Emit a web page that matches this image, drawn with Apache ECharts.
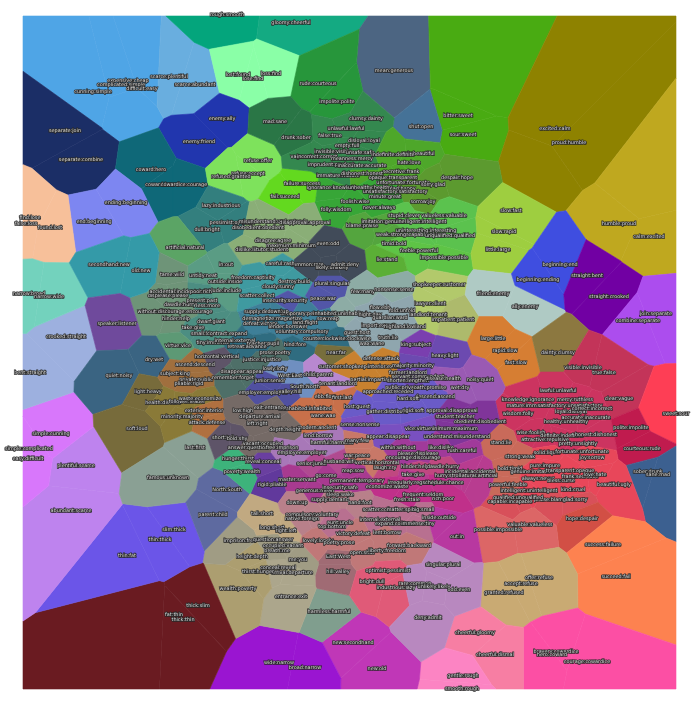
<!DOCTYPE html>
<html><head><meta charset="utf-8">
<style>html,body{margin:0;padding:0;background:#fff}#c{width:700px;height:708px}</style>
<script src="https://cdn.jsdelivr.net/npm/echarts@6/dist/echarts.min.js"></script>
</head><body><div id="c"></div>
<script>
// rows: [word, x, y, optional label x, optional label y]. Words of "" are unlabelled points.
const easyCheap=[["expensive:cheap",126,100,128,81],["complicated:simple",121,85],["difficult:easy",148,76,142,89],["cunning:simple",93,92]];
const scarce=[["scarce:plentiful",169,77],["scarce:abundant",195,85]];
const roughTop=[["rough:smooth",227,15]];
const gloomyTop=[["gloomy:cheerful",291,23]];
const lostFound=[["lost:found",238,75],["loss:find",271,74],["lose:find",253,79]];
const enemyAlly=[["enemy:ally",222,119],["enemy:friend",199,142]];
const separate=[["separate:join",65,131],["separate:combine",81,160]];
const coward=[["coward:hero",151,170],["coward:brave",162,185],["cowardice:courage",184,185]];
const refuse=[["refuse:accept",248,174],["refused:granted",231,177],["refuse:offer",258,161]];
const ending=[["ending:beginning",126,203],["end:beginning",94,222]];
const findLose=[["find:lose",30,218],["false:loss",26,224],["found:lost",50,228]];
const lazy=[["lazy:industrious",221,206],["pessimist:optimist",232,223],["dull:bright",207,230]];
const mean=[["mean:generous",391,90,394,71]];
const rude=[["rude:courteous",318,84],["impolite:polite",337,102]];
const mad=[["mad:sane",275,122],["drunk:sober",296,138]];
const fail=[["fail:succeed",285,197],["failure:success",302,184]];
const bitter=[["bitter:sweet",458,116],["sour:sweet",463,135],["",470,88]];
const excited=[["excited:calm",555,129],["proud:humble",569,143],["",543,161]];
const humble=[["humble:proud",619,224],["calm:excited",649,237],["",640,198]];
const shut=[["shut:open",421,127]];
const clumsy=[["clumsy:dainty",366,119],["unlawful:lawful",346,129],["false:true",330,136],["disloyal:loyal",364,141],["empty:full",347,146],["vague:clear",305,157],["incorrect:correct",317,157],["invisible:visible",333,152],["unsafe:safe",360,153],["meanness:mercy",352,159],["imprudent:prudent",331,165],["inaccurate:accurate",362,166],["immature:mature",338,176]];
const ugly=[["ugly:beautiful",418,154],["indefinite:definite",393,155],["hate:love",409,163],["secretive:frank",401,172],["dishonest:honest",362,174],["opaque:transparent",393,178]];
const despair=[["despair:hope",457,178],["unfortunate:fortunate",403,183],["sorry:glad",433,185],["sad:happy",403,189],["sorrow:joy",423,202]];
const ignorance=[["ignorance:knowledge",333,188],["unhealthy:healthy",370,188],["unsatisfactory:satisfactory",395,192],["minute:great",385,197],["foolish:wise",355,202],["folly:wisdom",336,210],["never:always",379,208]];
const stupid=[["stupid:clever",404,216],["valueless:valuable",444,216],["unintelligent:intelligent",418,222],["uninteresting:interesting",426,231],["incapable:able",422,235],["unqualified:qualified",450,236]];
const blame=[["blame:praise",362,226],["imitation:genuine",383,222],["weak:strong",391,235]];
const timid=[["timid:bold",394,244],["feeble:powerful",419,251],["impossible:possible",444,258]];
const lieStand=[["lie:stand",387,260]];
const slow=[["slow:fast",506,228,511,211],["slow:rapid",504,232],["little:large",498,250]];
const disagree=[["disagree:agree",273,241],["maximum:minimum",291,246],["dislike:like",248,250],["tutor:student",272,250],["misunderstand:understand",272,222],["disapproval:approval",305,223],["disobedient:obedient",258,228]];
const evenOdd=[["even:odd",328,244],["common:rare",307,265],["likely:unlikely",332,268],["admit:deny",345,265]];
const artificial=[["artificial:natural",185,248]];
const inOut=[["in:out",226,265],["outside:inside",225,282],["exclude:include",222,291],["untidy:neat",203,276]];
const tame=[["tame:wild",172,275],["without:within",155,312],["displease:please",168,296],["accidental:incidental",175,292],["discourage:encourage",185,312],["dawdle:hurry",180,305],["hinder:help",176,319]];
const poor=[["poor:rich",201,292],["present:past",202,301],["less:more",208,306],["dwarf:giant",211,322],["take:give",193,328],["small:big",202,334],["contract:expand",227,334],["tiny:immense",213,343]];
const virtue=[["virtue:vice",178,346]];
const careful=[["careful:rash",280,264],["freedom:captivity",253,278],["cloudy:sunny",278,287],["destroy:build",294,282],["scatter:collect",257,296]];
const plural=[["plural:singular",332,284],["peace:war",323,299],["insecurity:security",285,301]];
const temporary=[["temporary:permanent",307,314],["supply:demand",263,312],["down:up",278,312],["demagnetize:magnetize",272,319],["sow:reap",328,319],["land:flight",305,323],["defeat:victory",260,324],["lender:borrower",288,327],["voluntary:compulsory",302,332]];
const clockwise=[["counterclockwise:clockwise",337,339],["internal:external",235,341],["teacher:pupil",263,344],["hind:fore",295,345],["retreat:advance",247,347]];
const inhabited=[["inhabited:uninhabited",340,314],["few:many",363,292],["nonsense:sense",394,290]];
const flow=[["flow:ebb",380,308],["fold:unfold",402,311],["night:day",370,315],["guardian:ward",390,318],["import:export",378,326],["highland:lowland",405,327],["guest:host",357,333],["truth:lie",388,338],["wax:wane",372,344]];
const shop=[["shopkeeper:customer",439,285],["lawyer:client",430,304],["landlord:tenant",428,315]];
const impatient=[["impatient:patient",453,320]];
const kingSub=[["king:subject",416,345]];
const friend=[["friend:enemy",493,294],["ally:enemy",525,307]];
const begin=[["beginning:end",560,265],["beginning:ending",538,280]];
const bent=[["straight:bent",587,276],["straight:crooked",609,297]];
const joinSep=[["join:separate",656,314],["combine:separate",638,321]];
const large=[["large:little",493,339],["rapid:slow",505,351],["fast:slow",516,363]];
const dainty=[["dainty:clumsy",558,353]];
const visible=[["visible:invisible",583,368],["true:false",604,373],["clear:vague",619,399]];
const lawful=[["lawful:unlawful",558,391],["knowledge:ignorance",528,400],["mercy:ruthless",575,400],["wisdom:folly",518,414],["mature:immature",528,406],["satisfactory:unsatisfactory",570,406],["loyal:disloyal",571,412],["correct:incorrect",592,409],["accurate:inaccurate",586,418],["healthy:unhealthy",566,422],["wise:foolish",531,433],["definite:indefinite",562,436],["honest:dishonest",596,435],["attractive:repulsive",545,440],["pretty:unsightly",578,444]];
const sweet=[["sweet:sour",659,414,676,414]];
const polite=[["polite:impolite",631,428],["courteous:rude",642,449]];
const sober=[["sober:drunk",648,472],["sane:mad",658,475]];
const strong=[["stand:lie",501,443],["strong:weak",520,457],["bold:timid",510,469],["powerful:feeble",508,485]];
const fortunate=[["solid:liquid",547,453],["fortunate:unfortunate",582,452],["joy:sorrow",592,458],["pure:impure",545,466],["genuine:imitation",532,472],["transparent:opaque",570,471],["frank:secretive",580,477],["love:hate",595,475],["always:never",538,479],["bless:curse",561,481],["beautiful:ugly",614,485],["kind:cruel",573,490],["intelligent:unintelligent",529,491]];
const glad=[["praise:blame",550,500],["glad:sorry",575,500],["qualified:unqualified",518,498],["capable:incapable",510,502]];
const hope=[["hope:despair",582,519]];
const valuable=[["valuable:valueless",530,525],["possible:impossible",498,530]];
const success=[["success:failure",603,545],["succeed:fail",616,577]];
const offer=[["offer:refuse",539,578],["accept:refuse",521,584],["granted:refused",504,593]];
const brave=[["bravery:cowardice",556,652],["hero:coward",552,655],["courage:cowardice",587,662]];
const cheerful=[["cheerful:gloomy",475,633],["cheerful:dismal",495,655]];
const gentle=[["gentle:rough",463,676],["smooth:rough",462,689]];
const newOld=[["new:secondhand",353,643],["new:old",377,669]];
const wide=[["wide:narrow",279,663],["broad:narrow",305,668]];
const harmless=[["harmless:harmful",329,612]];
const hill=[["hill:valley",338,572],["East:West",338,557]];
const entrance=[["entrance:exit",291,597],["conceal:reveal",278,568],["arrival:departure",292,573]];
const wealth=[["wealth:poverty",238,589],["thirst:hunger",258,572],["height:depth",252,557]];
const imprison=[["imprison:free",240,541],["question:answer",273,540],["occupied:vacant",283,546],["breath:me",277,551],["me:you",298,560]];
const thick=[["thick:slim",198,606],["fat:thin",143,618,174,615],["thick:thin",183,620]];
const thin=[["slim:thick",174,530],["thin:thick",160,540],["thin:fat",127,556]];
const abundant=[["abundant:scarce",71,511],["plentiful:scarce",76,466]];
const simple=[["simple:cunning",51,434],["simple:complicated",29,449],["easy:difficult",28,459]];
const bentStr=[["crooked:straight",66,337],["bent:straight",30,373]];
const narrow=[["narrow:broad",29,294],["narrow:wide",49,297]];
const second=[["secondhand:new",109,265],["old:new",141,271]];
const speaker=[["speaker:listener",117,324]];
const quiet=[["quiet:noisy",119,376],["dry:wet",154,360]];
const softLoud=[["soft:loud",137,429],["light:heavy",148,392]];
const lastFirst=[["last:first",195,448]];
const famous=[["famous:unknown",168,478]];
const parent=[["parent:child",213,515],["North:South",227,490]];
const rigidP=[["rigid:pliable",272,485]];
const hunger=[["hunger:thirst",238,459],["poverty:wealth",242,472]];
const tall=[["tall:short",262,514],["long:short",272,528],["right:left",286,531]];
const ascend=[["ascend:descend",195,365],["subject:king",175,374],["private:public",196,380],["pliable:rigid",189,384]];
const health=[["health:disease",163,403],["follower:leader",187,402],["waste:economize",200,399],["minority:majority",182,417]];
const attack=[["exterior:interior",204,411],["attack:defense",207,423]];
const shortT=[["short:tall",223,438],["bold:shy",237,439],["horizontal:vertical",217,357]];
const prose=[["prose:poetry",275,353],["justice:injustice",262,360],["disappear:appear",242,372],["remember:forget",233,378]];
const nearFar=[["near:far",336,353]];
const customer=[["customer:shopkeeper",345,367],["defense:attack",381,359],["interior:exterior",387,367],["partial:impartial",370,380]];
const lowly=[["lowly:lofty",275,369],["West:East",290,376],["South:North",305,387]];
const junior=[["junior:senior",270,381],["employer:employee",263,393],["valley:hill",290,392]];
const child=[["child:parent",318,375],["tenant:landlord",338,384]];
const ebb=[["ebb:flow",325,397],["first:last",342,398],["uninhabited:inhabited",305,409],["wane:wax",323,416],["modern:ancient",317,428]];
const exitE=[["exit:entrance",270,408],["low:high",243,411],["departure:arrival",260,417],["left:right",257,424],["depth:height",285,430],["vacant:occupied",263,444],["answer:question",248,448]];
const lend=[["lend:borrow",318,436],["harmful:harmless",332,443],["employee:employer",302,453],["free:imprison",282,448]];
const reveal=[["reveal:conceal",263,462]];
const senior=[["senior:junior",312,464],["husband:wife",340,462]];
const heavy=[["heavy:light",445,356],["majority:minority",413,366],["farmer:landlord",408,373],["servant:commandant",418,377],["shorten:lengthen",408,381]];
const publicP=[["public:private",402,388],["oath:promise",430,388],["approached:receded",388,392],["descend:ascend",435,397],["hard:soft",408,399],["gather:distribute",387,412],["rigid:soft",413,411],["host:guest",357,407]];
const noisy=[["noisy:quiet",480,380],["wet:dry",460,388],["disease:health",443,379]];
const approval=[["approval:disapproval",452,411],["student:teacher",455,417],["obedient:disobedient",480,422],["understand:misunderstand",457,437],["minimum:maximum",453,429]];
const vice=[["vice:virtue",418,429],["appear:disappear",388,437],["sense:nonsense",360,425]];
const many=[["many:few",357,441],["war:peace",357,456],["vertical:horizontal",377,463]];
const within=[["within:without",398,448],["like:dislike",441,448],["rush:careful",462,451],["please:displease",418,454],["encourage:discourage",413,458]];
const laugh=[["laugh:cry",385,468],["hinder:help",415,467],["dawdle:hurry",443,467]];
const natural=[["natural:artificial",478,476],["incidental:accidental",470,472],["take:give",413,475],["hurry:stroll",448,476]];
const master=[["master:servant",297,480],["go:come",326,476],["reap:sow",353,471],["permanent:temporary",357,481],["generous:mean",315,491],["insecurity:safe",340,488]];
const regular=[["irregularly:regularly",412,483],["schedule:chance",443,483],["rich:poor",443,499],["frequent:seldom",423,495],["fresh:stale",407,500],["economize:waste",387,487]];
const compulsory=[["down:up",297,503],["supply:demand",330,500],["sleep:wake",340,495],["hand:foot",360,503],["compulsory:voluntary",312,515],["native:foreign",302,519]];
const bigSmall=[["scatter:collect",380,510],["matter:spirit",402,510],["big:small",423,510],["internal:external",380,520],["expand:contract",395,524],["immense:tiny",418,524],["aunt:uncle",340,523],["top:bottom",332,527]];
const inside=[["inside:outside",439,518],["out:in",457,537]];
const victory=[["victory:defeat",353,534],["lent:borrow",387,533],["lovely:lonely",318,541],["poetry:prose",339,543],["open:shut",362,553],["liberty:freedom",387,551],["forward:backward",409,546]];
const optimist=[["optimist:pessimist",388,571],["bright:dull",372,582],["industrious:lazy",396,588]];
const singular=[["singular:plural",443,565],["rare:common",415,584],["unlikely:likely",434,587],["odd:even",459,590],["deny:admit",428,618]];

const clusterRows=[easyCheap,scarce,roughTop,gloomyTop,lostFound,enemyAlly,separate,coward,refuse,ending,findLose,lazy,mean,rude,mad,fail,bitter,excited,humble,shut,clumsy,ugly,despair,ignorance,stupid,blame,timid,lieStand,slow,disagree,evenOdd,artificial,inOut,tame,poor,virtue,careful,plural,temporary,clockwise,inhabited,flow,shop,impatient,kingSub,friend,begin,bent,joinSep,large,dainty,visible,lawful,sweet,polite,sober,strong,fortunate,glad,hope,valuable,success,offer,brave,cheerful,gentle,newOld,wide,harmless,hill,entrance,wealth,imprison,thick,thin,abundant,simple,bentStr,narrow,second,speaker,quiet,softLoud,lastFirst,famous,parent,rigidP,hunger,tall,ascend,health,attack,shortT,prose,nearFar,customer,lowly,junior,child,ebb,exitE,lend,reveal,senior,heavy,publicP,noisy,approval,vice,many,within,laugh,natural,master,regular,compulsory,bigSmall,inside,victory,optimist,singular];
const clusterColors=["#4FA5E6","#69AEDF","#04A57C","#14AA82","#8AFFA7","#2136AE","#1B2E66","#0F6878","#7EE25C","#7D86F1","#F7C09A","#337F7E","#4C6582","#27963B","#2A7646","#63D91F","#49AB12","#8E8200","#BFA81F","#457297","#34884F","#4EA72A","#5C9A2F","#37A637","#5BC24E","#54A53E","#5EC446","#5BAF36","#9ECE40","#8AAE77","#414B59","#5BA465","#5A9C84","#6E9478","#4C8E82","#5D9975","#3F9AA0","#5256A8","#3E7F98","#2F6C80","#8DACA5","#8FA6AE","#B2C96B","#ADBA6C","#7A3FAF","#AFCAC4","#3F4EE0","#7100A3","#AC4DEE","#D67E33","#8C7840","#C33459","#CC3460","#FE3E55","#C01B4E","#3C6090","#C96A5A","#E8475A","#D8505A","#D24F45","#DC6666","#FD8250","#C9AA73","#FC4FA4","#F77EA3","#FC84C3","#C037B7","#9A15D1","#809E8E","#A06B74","#ACA68C","#AC9E70","#A09C84","#6A1B21","#6B55E8","#BE83EE","#D877FB","#9DB0DF","#73D2BD","#349AA8","#6F4A9C","#3A6482","#776B3B","#8AA094","#8AA094","#5E6AA0","#61399C","#3DB37B","#C1A981","#A06F3E","#8A7A38","#B07040","#5E5468","#4E6F68","#776E3C","#C8812F","#6F8FC0","#5050A0","#B888D0","#C8704A","#756A66","#A878B8","#6A3FA0","#B04A90","#6C4AB0","#6A5BC8","#9A5AB3","#80359A","#7950C0","#C87868","#A03A9A","#C04880","#B83C90","#A83A90","#C0308A","#B8808A","#B87090","#B838A0","#C07878","#E05A78","#B888BF"];

const xMin=23,xMax=676,yMin=16,yMax=689;
const sites=[];
clusterRows.forEach((rows,g)=>rows.forEach(r=>sites.push({word:r[0],x:r[1],y:r[2],lx:r[3]===undefined?r[1]:r[3],ly:r[4]===undefined?r[2]:r[4],color:clusterColors[g]})));

function cellOf(i){
  let poly=[[xMin,yMin],[xMax,yMin],[xMax,yMax],[xMin,yMax]];
  const a=sites[i];
  for(let j=0;j<sites.length&&poly.length;j++){
    if(j===i)continue;
    const b=sites[j],nx=b.x-a.x,ny=b.y-a.y;
    if(nx===0&&ny===0)continue;
    const c=(b.x*b.x+b.y*b.y-a.x*a.x-a.y*a.y)/2;
    const out=[];
    for(let k=0;k<poly.length;k++){
      const p=poly[k],q=poly[(k+1)%poly.length];
      const dp=nx*p[0]+ny*p[1]-c,dq=nx*q[0]+ny*q[1]-c;
      if(dp<=0)out.push(p);
      if((dp<0&&dq>0)||(dp>0&&dq<0)){const t=dp/(dp-dq);out.push([p[0]+t*(q[0]-p[0]),p[1]+t*(q[1]-p[1])]);}
    }
    poly=out;
  }
  return poly;
}
const cells=sites.map((s,i)=>cellOf(i));
const chart=echarts.init(document.getElementById('c'),null,{renderer:'canvas'});
chart.setOption({
  animation:false,
  backgroundColor:'#fff',
  grid:{left:xMin,top:yMin,width:xMax-xMin,height:yMax-yMin},
  xAxis:{type:'value',min:xMin,max:xMax,show:false},
  yAxis:{type:'value',min:yMin,max:yMax,inverse:true,show:false},
  series:[
    {type:'custom',silent:true,clip:false,progressive:0,z:1,
     data:sites.map(s=>[s.x,s.y]),
     renderItem:(p,api)=>({type:'polygon',
       shape:{points:cells[p.dataIndex].map(v=>api.coord(v))},
       style:{fill:sites[p.dataIndex].color,stroke:sites[p.dataIndex].color,lineWidth:0.6}})},
    {type:'custom',silent:true,clip:false,progressive:0,z:2,
     data:sites.map(s=>[s.lx,s.ly]),
     renderItem:(p,api)=>{const c=api.coord([api.value(0),api.value(1)]);
       return {type:'text',x:c[0],y:c[1],style:{text:sites[p.dataIndex].word,fill:'#dedede',stroke:'#2a2a2a',lineWidth:1.5,
         fontFamily:'DejaVu Sans',fontSize:4.9,align:'center',verticalAlign:'middle'}};}}
  ]
});
</script></body></html>
